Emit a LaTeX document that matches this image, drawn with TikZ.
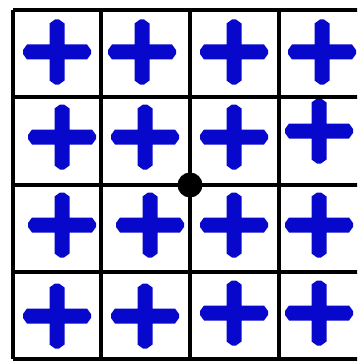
\documentclass[tikz,border=0pt]{standalone}
\definecolor{plusblue}{RGB}{8,8,205}
\tikzset{
  gridline/.style={line width=3.3pt, black},
  blueplus/.pic={
    \fill[plusblue] (30,-7.5) -- (34,-2) -- (34,2) -- (30,7.5) -- (7.5,7.5) -- (7.5,28.5) -- (2,32.5) -- (-2,32.5) -- (-7.5,28.5) -- (-7.5,7.5) -- (-30,7.5) -- (-34,2) -- (-34,-2) -- (-30,-7.5) -- (-7.5,-7.5) -- (-7.5,-28.5) -- (-2,-32.5) -- (2,-32.5) -- (7.5,-28.5) -- (7.5,-7.5) -- cycle;
  }
}
\begin{document}
\begin{tikzpicture}[x=1pt,y=-1pt]
\useasboundingbox (0,0) rectangle (357,361);
\fill[white] (0,0) rectangle (357,361);
\begin{scope}
\clip (0,0) rectangle (357,361);
% plus signs
\foreach \px/\py in {57/52, 142/52, 234/52, 322/52,
                     62/137, 145/137, 234/137, 319/131,
                     62/225, 150/225, 234/225, 319/225,
                     57/316, 145/316, 234/313, 319/313}
  \pic at (\px,\py) {blueplus};
% grid
\foreach \gx in {13,101,190,279,368}
  \draw[gridline] (\gx,10) -- (\gx,359);
\foreach \gy in {10,97,185,272,359}
  \draw[gridline] (13,\gy) -- (368,\gy);
\end{scope}
\fill[black] (190,185) circle (12.5);
\end{tikzpicture}
\end{document}
